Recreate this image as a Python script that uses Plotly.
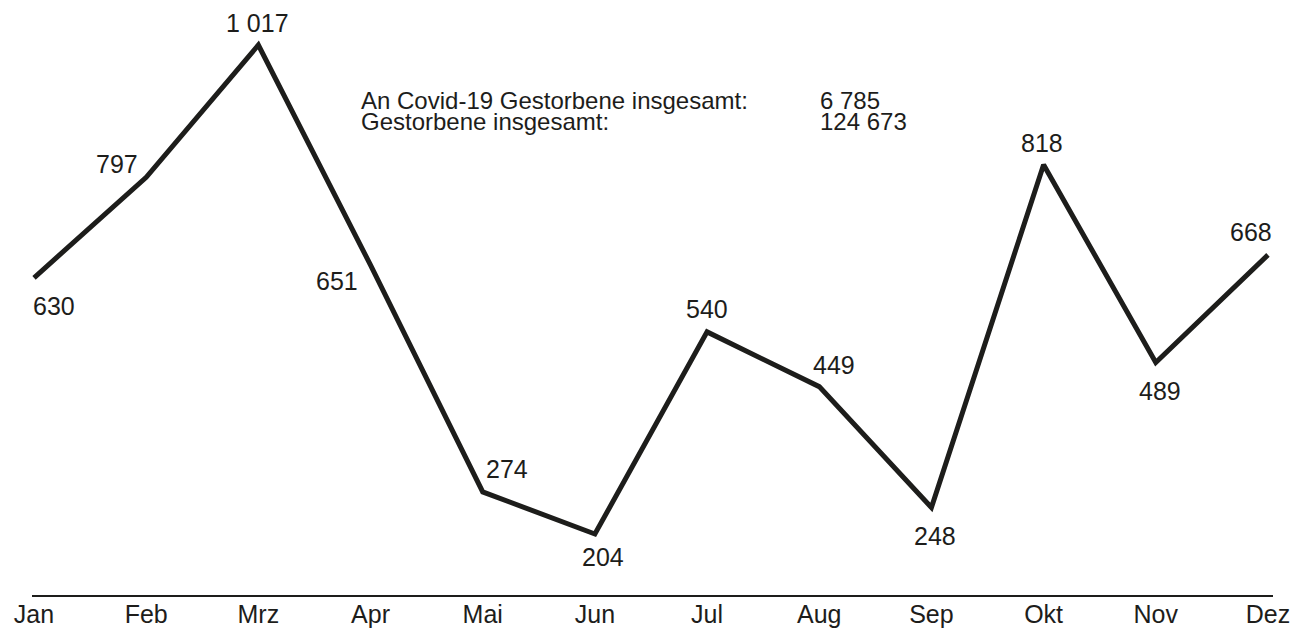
import plotly.graph_objects as go

months = ["Jan", "Feb", "Mrz", "Apr", "Mai", "Jun", "Jul", "Aug", "Sep", "Okt", "Nov", "Dez"]
deaths = [630, 797, 1017, 651, 274, 204, 540, 449, 248, 818, 489, 668]
value_labels = ["630", "797", "1 017", "651", "274", "204", "540", "449", "248", "818", "489", "668"]
# label offsets (px) relative to each point
label_dx = [20, -29, -1, -34, 24, 8, 0, 15, 4, -2, 4, -17]
label_dy = [-28, 13, 22, -16, 23, -23, 23, 22, -28, 22, -28, 23]

info_labels = ["An Covid-19 Gestorbene insgesamt:", "Gestorbene insgesamt:"]
info_values = ["6 785", "124 673"]

FONT = "Liberation Sans, Arial, sans-serif"
INK = "#1d1d1b"
FS = 25

W, H = 1306, 629
ml, mr, mt, mb = 32, 33, 0, 34
pw, ph = W - ml - mr, H - mt - mb

x = list(range(len(months)))
fig = go.Figure()
fig.add_trace(go.Scatter(x=x, y=deaths, mode="lines",
                         line=dict(color=INK, width=5), hoverinfo="skip"))

for i, (v, t) in enumerate(zip(deaths, value_labels)):
    fig.add_annotation(x=i, y=v, text=t, showarrow=False,
                       xshift=label_dx[i], yshift=label_dy[i],
                       font=dict(family=FONT, size=FS, color=INK))

for j, (lab, val) in enumerate(zip(info_labels, info_values)):
    yc = 100 + j * 22
    fig.add_annotation(x=(359 - ml) / pw, y=1 - (yc - mt) / ph, xref="paper", yref="paper",
                       text=lab, showarrow=False, xanchor="left", yanchor="middle",
                       font=dict(family=FONT, size=24, color=INK))
    fig.add_annotation(x=(818 - ml) / pw, y=1 - (yc - mt) / ph, xref="paper", yref="paper",
                       text=val, showarrow=False, xanchor="left", yanchor="middle",
                       font=dict(family=FONT, size=24, color=INK))

fig.update_layout(
    width=W, height=H,
    margin=dict(l=ml, r=mr, t=mt, b=mb, autoexpand=False),
    paper_bgcolor="white", plot_bgcolor="white",
    showlegend=False,
    xaxis=dict(range=[-0.018, 11.045], tickmode="array", tickvals=x, ticktext=months,
               showgrid=False, zeroline=False, showline=True, linecolor=INK, linewidth=1.5,
               ticks="", automargin=False, ticklabelstandoff=-4,
               tickfont=dict(family=FONT, size=FS, color=INK)),
    yaxis=dict(range=[102.6, 1091.8], visible=False, showgrid=False, zeroline=False),
)

fig.write_html("out.html", config={"displayModeBar": False},
               post_script="document.body.style.margin='0';document.body.style.overflow='hidden';")
